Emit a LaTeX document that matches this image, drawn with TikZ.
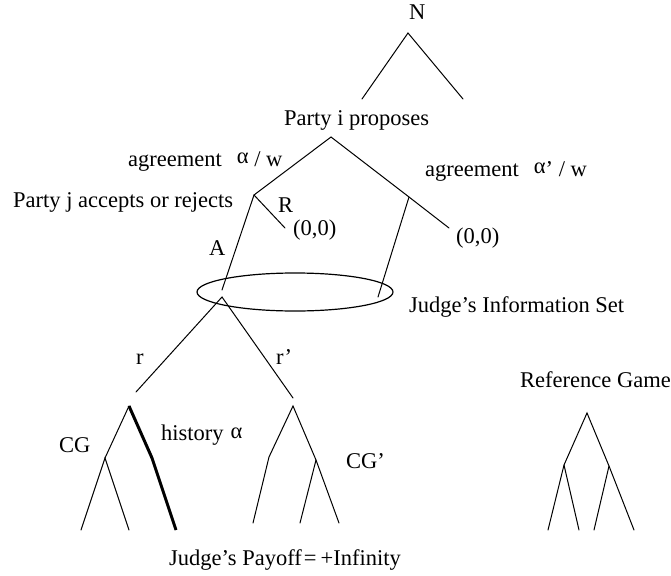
\documentclass[tikz,border=0pt]{standalone}
\usepackage{fontspec}
\setmainfont{Liberation Serif}
\usetikzlibrary{calc}

\tikzset{
  lbl/.style={inner sep=0pt, anchor=base west, font=\fontsize{22.5}{27}\selectfont},
  branch/.style={line width=1pt, line cap=round},
  path/.style={line width=3pt},
  infoset/.style={line width=1.2pt}
}
\newcommand{\upalpha}[1][3pt]{\raisebox{#1}{α}}

\begin{document}
\begin{tikzpicture}[x=1pt,y=-1pt]
  \useasboundingbox (0,0) rectangle (671,575);

  % nature's move
  \coordinate (n)   at (408,33);
  \coordinate (nl)  at (362,99);
  \coordinate (nr)  at (463,99);
  \node[lbl] (nlab) at (409,20) {N};
  \draw[branch] (nl) -- (n) -- (nr);

  % party i proposes
  \coordinate (pi)  at (331,137);
  \coordinate (pj)  at (254,195);
  \coordinate (pk)  at (409,197);
  \coordinate (pke) at (449,228);
  \node[lbl] (pilab) at (284,125) {Party i proposes};
  \draw[branch] (pj) -- (pi) -- (pk) -- (pke);
  \node[lbl] (agl) at (128,166) {agreement\hspace{15pt}\upalpha{} / w};
  \node[lbl] (agr) at (425,176) {agreement\hspace{15pt}\upalpha’ / w};

  % party j accepts or rejects
  \node[lbl] (pjlab) at (13,207) {Party j accepts or rejects};
  \coordinate (rj)  at (285,228);
  \draw[branch] (pj) -- (rj);
  \node[lbl] (rlab)  at (278,212) {R};
  \node[lbl] (z1)    at (293,235) {(0,0)};
  \node[lbl] (z2)    at (456,243) {(0,0)};
  \node[lbl] (alab)  at (209,255) {A};

  \coordinate (ja)  at (222,290);
  \coordinate (jb)  at (378,297);
  \draw[branch] (pj) -- (ja);
  \draw[branch] (pk) -- (jb);

  % judge's information set
  \draw[infoset] (295,292) ellipse [x radius=98, y radius=19];
  \node[lbl] (islab) at (409,312) {Judge’s Information Set};

  % judge's rule choice
  \coordinate (jd)  at (222,297);
  \coordinate (cr)  at (136,392);
  \coordinate (crp) at (293,398);
  \draw[branch] (cr) -- (jd) -- (crp);
  \node[lbl] (rl)  at (136,364) {r};
  \node[lbl] (rpl) at (276,364) {r’};

  % continuation game CG
  \coordinate (cg)   at (129,406);
  \coordinate (cga)  at (105,458);
  \coordinate (cgb)  at (152,458);
  \coordinate (cga1) at (81,530);
  \coordinate (cga2) at (129,530);
  \coordinate (cgb1) at (176,530);
  \draw[branch] (cg) -- (cga);
  \draw[branch] (cga1) -- (cga) -- (cga2);
  \draw[path] (cg) -- (cgb) -- (cgb1);
  \node[lbl] (cglab) at (59,452) {CG};
  \node[lbl] (hist)  at (161,440) {history\hspace{7pt}\upalpha[2pt]};

  % continuation game CG'
  \coordinate (cp)   at (293,406);
  \coordinate (cpa)  at (269,457);
  \coordinate (cpb)  at (316,460);
  \coordinate (cpa1) at (253,523);
  \coordinate (cpb1) at (300,523);
  \coordinate (cpb2) at (339,523);
  \draw[branch] (cpa1) -- (cpa) -- (cp) -- (cpb) -- (cpb2);
  \draw[branch] (cpb) -- (cpb1);
  \node[lbl] (cplab) at (346,468) {CG’};

  % reference game
  \node[lbl] (rglab) at (520,387) {Reference Game};
  \coordinate (rg)   at (587,413);
  \coordinate (rga)  at (564,465);
  \coordinate (rgb)  at (609,466);
  \coordinate (rga1) at (548,530);
  \coordinate (rga2) at (579,530);
  \coordinate (rgb1) at (594,530);
  \coordinate (rgb2) at (634,530);
  \draw[branch] (rga1) -- (rga) -- (rg) -- (rgb) -- (rgb2);
  \draw[branch] (rga) -- (rga2);
  \draw[branch] (rgb) -- (rgb1);

  % payoff
  \node[lbl] (pay) at (169,565) {Judge’s Payoff{\kern2pt}={\kern4pt}+Infinity};
\end{tikzpicture}
\end{document}
